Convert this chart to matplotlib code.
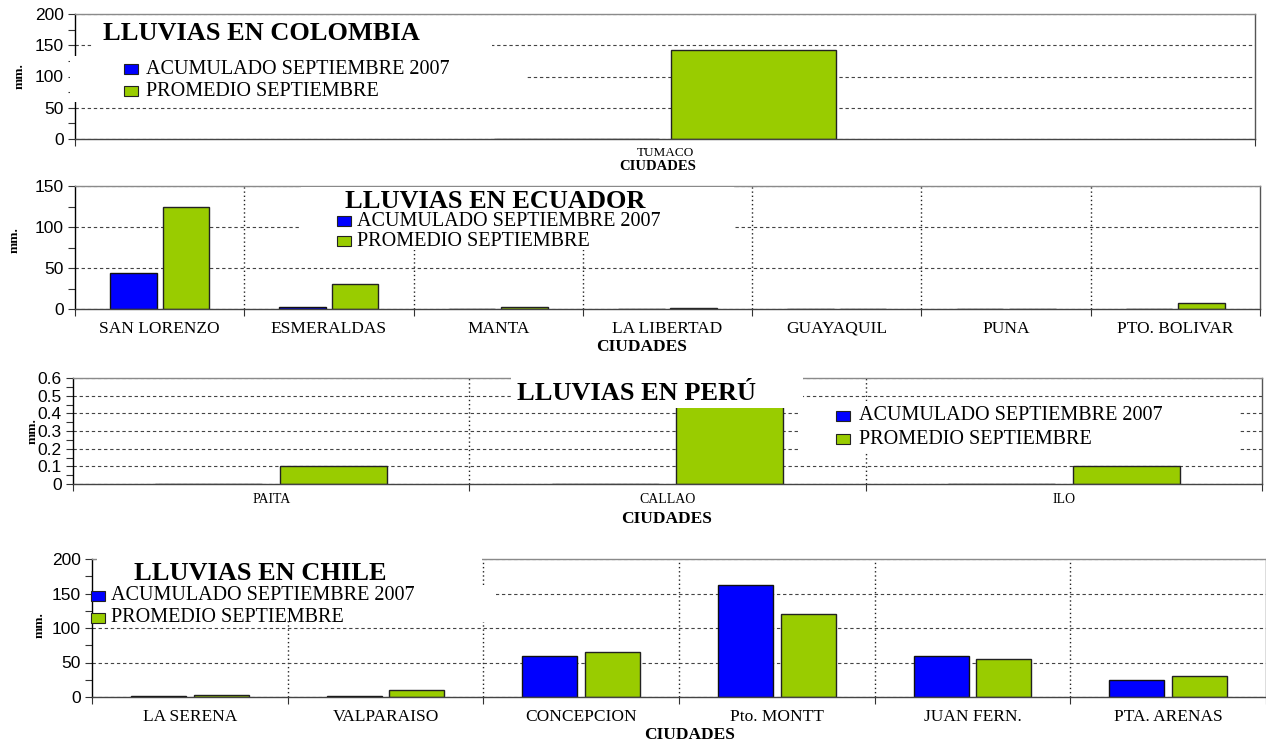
import matplotlib
matplotlib.use('Agg')
import matplotlib.pyplot as plt
from matplotlib.patches import Rectangle
from matplotlib.ticker import MultipleLocator, FixedLocator, FixedFormatter

# ---------------- data ----------------
SERIES = ['ACUMULADO SEPTIEMBRE 2007', 'PROMEDIO SEPTIEMBRE']
BLUE = '#0000FF'
GREEN = '#99CC00'

col_cities = ['TUMACO']
col_acum = [0]
col_prom = [143]

ecu_cities = ['SAN LORENZO', 'ESMERALDAS', 'MANTA', 'LA LIBERTAD', 'GUAYAQUIL', 'PUNA', 'PTO. BOLIVAR']
ecu_acum = [44, 2.5, 0, 0, 0, 0, 0.5]
ecu_prom = [124, 31, 2.4, 0.8, 0.6, 0.6, 7.3]

per_cities = ['PAITA', 'CALLAO', 'ILO']
per_acum = [0, 0, 0]
per_prom = [0.1, 0.5, 0.1]

chi_cities = ['LA SERENA', 'VALPARAISO', 'CONCEPCION', 'Pto. MONTT', 'JUAN FERN.', 'PTA. ARENAS']
chi_acum = [1, 2, 59, 162, 60, 25]
chi_prom = [3, 10, 65, 121, 55, 30]

# ---------------- layout helpers ----------------
W, H = 1266, 744
fig = plt.figure(figsize=(W / 100, H / 100), dpi=100)
fig.patch.set_facecolor('white')

SERIF = ['Liberation Serif', 'DejaVu Serif']
SANS = ['Liberation Sans', 'DejaVu Sans']


def fx(x):
    return x / W


def fy(y):
    return 1 - y / H


def add_ax(l, t, r, b):
    return fig.add_axes([l / W, 1 - b / H, (r - l) / W, (b - t) / H])


def panel(ax, cities, acum, prom, ymax, ystep, yminor, width, off,
          vlines=True, catsize=11, catpad=16, fmt=None):
    n = len(cities)
    x = list(range(n))
    ax.set_xlim(-0.5, n - 0.5)
    ax.set_ylim(0, ymax)
    ax.bar([i - off for i in x], acum, width, color=BLUE, edgecolor='#111111',
           linewidth=1.0, zorder=2)
    ax.bar([i + off for i in x], prom, width, color=GREEN, edgecolor='#222222',
           linewidth=1.0, zorder=2)
    # y axis
    ax.yaxis.set_major_locator(MultipleLocator(ystep))
    ax.yaxis.set_minor_locator(MultipleLocator(yminor))
    if fmt is not None:
        ax.yaxis.set_major_formatter(fmt)
    ax.tick_params(axis='y', which='both', direction='out', length=5, width=0.8,
                   pad=3, labelsize=12.5, color='#333333')
    ax.yaxis.grid(True, which='major', color='#444444', linewidth=0.8,
                  linestyle=(0, (3, 2.5)), zorder=0)
    ax.set_axisbelow(True)
    # x axis: category labels at centers, ticks at boundaries
    ax.xaxis.set_major_locator(FixedLocator(x))
    ax.xaxis.set_major_formatter(FixedFormatter(cities))
    ax.xaxis.set_minor_locator(FixedLocator([i - 0.5 for i in range(n + 1)]))
    ax.tick_params(axis='x', which='major', length=0, pad=catpad, labelsize=catsize)
    ax.tick_params(axis='x', which='minor', length=5, width=0.8, direction='out',
                   color='#333333')
    if vlines:
        for i in range(n - 1):
            ax.axvline(i + 0.5, color='#222222', linewidth=1.0,
                       linestyle=(0, (1, 2)), zorder=0.5)
    ax.spines['left'].set_color('black')
    ax.spines['bottom'].set_color('#444444')
    ax.spines['top'].set_color('#8a8a8a')
    ax.spines['right'].set_color('#555555')
    for s in ax.spines.values():
        s.set_linewidth(1.0)


def style_labels(ax):
    for lab in ax.get_yticklabels():
        lab.set_fontfamily(SANS)
    for lab in ax.get_xticklabels():
        lab.set_fontfamily(SERIF)
        lab.set_va('baseline')


def white_box(ax, l, t, r, b):
    ax.add_patch(Rectangle((fx(l), fy(b)), (r - l) / W, (b - t) / H,
                           transform=fig.transFigure, facecolor='white',
                           edgecolor='none', zorder=3, clip_on=False))


def ftext(ax, x, y, s, size, bold=False, ha='left', va='center', rot=0):
    ax.text(fx(x), fy(y), s, transform=fig.transFigure, fontsize=size,
            fontweight='bold' if bold else 'normal', family=SERIF,
            ha=ha, va=va, rotation=rot, zorder=5, clip_on=False)


def legend(ax, xsq, ytop, xtext, dy, size):
    for k, (c, s) in enumerate(zip([BLUE, GREEN], SERIES)):
        yc = ytop + k * dy
        ax.add_patch(Rectangle((fx(xsq), fy(yc + 4.5)), 14 / W, 10 / H,
                               transform=fig.transFigure, facecolor=c,
                               edgecolor='#222222', linewidth=0.8,
                               zorder=5, clip_on=False))
        ftext(ax, xtext, yc, s, size)


def xlabel(ax, x, y, size):
    ftext(ax, x, y, 'CIUDADES', size, bold=True, ha='center')


def ylabel(ax, x, y, size=9.5):
    ftext(ax, x, y, 'mm.', size, bold=True, ha='center', rot=90)


TITLE = 19
LEG = 14.5

# ---------------- Colombia ----------------
ax1 = add_ax(75, 14, 1255, 139)
panel(ax1, col_cities, col_acum, col_prom, 200, 50, 25, 0.14, 0.075,
      vlines=False, catsize=9.5, catpad=12.5)
style_labels(ax1)
white_box(ax1, 93, 20, 492, 52)
white_box(ax1, 70, 56, 527, 102)
ftext(ax1, 103, 34, 'LLUVIAS EN COLOMBIA', TITLE, bold=True)
legend(ax1, 124, 69, 146, 22, LEG)
xlabel(ax1, 658, 166, 10.5)
ylabel(ax1, 20, 76)

# ---------------- Ecuador ----------------
ax2 = add_ax(75, 186, 1260, 309)
panel(ax2, ecu_cities, ecu_acum, ecu_prom, 150, 50, 25, 0.275, 0.155,
      catsize=12.5, catpad=17)
style_labels(ax2)
white_box(ax2, 301, 187, 734, 250)
ftext(ax2, 345, 201, 'LLUVIAS EN ECUADOR', TITLE, bold=True)
legend(ax2, 337, 221, 357, 20, LEG)
xlabel(ax2, 642, 347, 12.5)
ylabel(ax2, 15, 240)

# ---------------- Peru ----------------
ax3 = add_ax(73, 378, 1262, 484)
panel(ax3, per_cities, per_acum, per_prom, 0.6, 0.1, 0.05, 0.27, 0.157,
      catsize=10, catpad=14,
      fmt=plt.FuncFormatter(lambda v, p: '0' if abs(v) < 1e-9 else f'{v:.1f}'))
style_labels(ax3)
white_box(ax3, 511, 376, 803, 408)
white_box(ax3, 800, 401, 1238, 453)
ftext(ax3, 517, 393, 'LLUVIAS EN PERÚ', TITLE, bold=True)
legend(ax3, 836, 416, 859, 23, LEG)
xlabel(ax3, 667, 519, 12.5)
ylabel(ax3, 33, 431)

# ---------------- Chile ----------------
ax4 = add_ax(92, 559, 1266, 697)
panel(ax4, chi_cities, chi_acum, chi_prom, 200, 50, 25, 0.28, 0.16,
      catsize=12.5, catpad=17)
style_labels(ax4)
white_box(ax4, 97, 556, 482, 585)
white_box(ax4, 97, 585, 496, 622)
ftext(ax4, 134, 574, 'LLUVIAS EN CHILE', TITLE, bold=True)
legend(ax4, 91, 596, 111, 22, LEG)
xlabel(ax4, 690, 735, 12.5)
ylabel(ax4, 40, 625)

fig.savefig('out.png', dpi=100, facecolor='white')
